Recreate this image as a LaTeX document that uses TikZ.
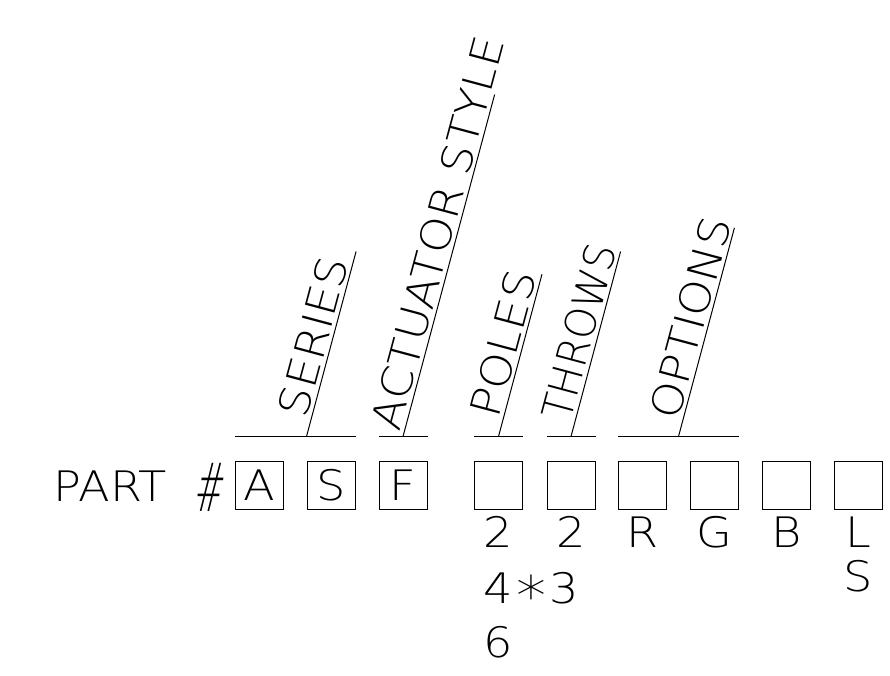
\documentclass[tikz,border=0pt]{standalone}
\usepackage{fontspec}
\setmainfont{DejaVu Sans ExtraLight}[FakeStretch=1.1]
\usetikzlibrary{calc}
\tikzset{
  pbox/.style={draw, line width=1pt, minimum size=48pt, inner sep=0pt},
  hdr/.style={sloped, anchor=south west, inner sep=3pt},
  pick/.style={anchor=base, inner sep=0pt},
}

\begin{document}
\begin{tikzpicture}[x=1pt, y=1pt, line width=1pt, font=\fontsize{42}{50}\selectfont]
\useasboundingbox (0,0) rectangle (890,675);
% part number boxes
\node[anchor=base west, inner sep=0pt] (part) at (53,174) {PART};
\begin{scope}[shift={(211,188)}, xslant=0.12]
  \node[inner sep=0pt, transform shape] (hash) at (0,0) {\scalebox{0.75}[1.6]{\#}};
\end{scope}
\node[pbox] (bA) at (259,190) {A};
\node[pbox] (bS) at (331,190) {S};
\node[pbox] (bF) at (403,190) {F};
\node[pbox] (bP) at (498.5,190) {};
\foreach \n/\x in {T/571, R/642.5, G/714.5, B/786.5, L/858.5}
  \node[pbox] (b\n) at (\x,190) {};

% field headings
\draw ([yshift=24pt]bA.north west) -- ([yshift=24pt]bS.north east);
\draw ([yshift=24pt]bS.north west) -- ++(75:191.5) node[hdr, pos=0.07] {SERIES};
\draw ([yshift=24pt]bF.north west) -- ([yshift=24pt]bF.north east);
\draw ([yshift=24pt]bF.north) -- ++(75:354) node[hdr, pos=0] {ACTUATOR\,\,STYLE};
\draw ([yshift=24pt]bP.north west) -- ([yshift=24pt]bP.north east);
\draw ([yshift=24pt]bP.north) -- ++(75:168) node[hdr, pos=0.08] {POLES};
\draw ([yshift=24pt]bT.north west) -- ([yshift=24pt]bT.north east);
\draw ([yshift=24pt]bT.north) -- ++(75:191.5) node[hdr, pos=0.05] {\scalebox{0.87}[1]{THROWS}};
\draw ([yshift=24pt]bR.north west) coordinate (o1) -- ([yshift=24pt]bG.north east) coordinate (o2);
\draw ($(o1)!0.5!(o2)$) -- ++(75:216) node[hdr, pos=0.05] {OPTIONS};

% choices under the boxes
\node[pick] (p2) at ([yshift=-38pt]bP.south) {2};
\node[anchor=base west, inner sep=0pt] (p4) at ([yshift=-56pt]p2.base west) {4\kern3pt\raisebox{-12pt}{\scalebox{1.3}{*}}\kern3pt3};
\node[anchor=base west, inner sep=0pt] (p6) at ([yshift=-110pt]p2.base west) {6};
\node[pick] (t2) at ([yshift=-38pt]bT.south) {2};
\node[pick] (oR) at ([yshift=-38pt]bR.south) {R};
\node[pick] (oG) at ([yshift=-38pt]bG.south) {G};
\node[pick] (oB) at ([yshift=-38pt]bB.south) {B};
\node[pick] (oL) at ([yshift=-38pt]bL.south) {L};
\node[pick] (oS) at ([yshift=-44pt]oL.base) {S};
\end{tikzpicture}
\end{document}
